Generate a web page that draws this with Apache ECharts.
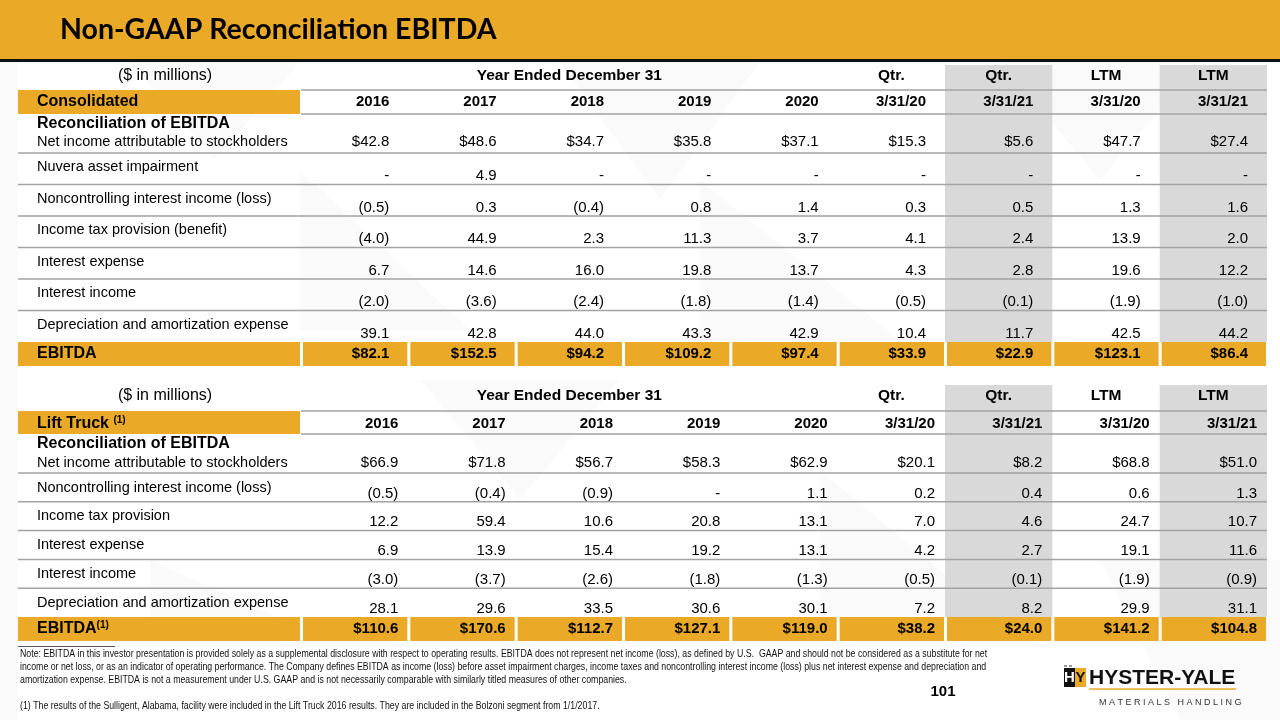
<!DOCTYPE html>
<html><head><meta charset="utf-8">
<script src="https://cdn.jsdelivr.net/npm/echarts@6/dist/echarts.min.js"></script>
<style>html,body{margin:0;padding:0;background:#fff}#c{width:1280px;height:720px}</style>
</head><body><div id="c"></div>
<script>
// ---------------- DATA ----------------
const periodGroups = ['Year Ended December 31', 'Qtr.', 'Qtr.', 'LTM', 'LTM'];
const periodGroupSpans = [5, 1, 1, 1, 1];
const periods = ['2016', '2017', '2018', '2019', '2020', '3/31/20', '3/31/21', '3/31/20', '3/31/21'];
const unitsLabel = '($ in millions)';
const reconTitle = 'Reconciliation of EBITDA';

const consTitle = 'Consolidated';
const consTotalLabel = 'EBITDA';
const consRowLabels = [
  'Net income attributable to stockholders',
  'Nuvera asset impairment',
  'Noncontrolling interest income (loss)',
  'Income tax provision (benefit)',
  'Interest expense',
  'Interest income',
  'Depreciation and amortization expense'
];
const consNetIncome        = [42.8, 48.6, 34.7, 35.8, 37.1, 15.3, 5.6, 47.7, 27.4];
const consNuvera           = [null, 4.9, null, null, null, null, null, null, null];
const consNoncontrolling   = [-0.5, 0.3, -0.4, 0.8, 1.4, 0.3, 0.5, 1.3, 1.6];
const consIncomeTax        = [-4.0, 44.9, 2.3, 11.3, 3.7, 4.1, 2.4, 13.9, 2.0];
const consInterestExpense  = [6.7, 14.6, 16.0, 19.8, 13.7, 4.3, 2.8, 19.6, 12.2];
const consInterestIncome   = [-2.0, -3.6, -2.4, -1.8, -1.4, -0.5, -0.1, -1.9, -1.0];
const consDepreciation     = [39.1, 42.8, 44.0, 43.3, 42.9, 10.4, 11.7, 42.5, 44.2];
const consEbitda           = [82.1, 152.5, 94.2, 109.2, 97.4, 33.9, 22.9, 123.1, 86.4];

const ltTitle = 'Lift Truck ';
const ltTitleSup = '(1)';
const ltTotalLabel = 'EBITDA';
const ltTotalSup = '(1)';
const ltRowLabels = [
  'Net income attributable to stockholders',
  'Noncontrolling interest income (loss)',
  'Income tax provision',
  'Interest expense',
  'Interest income',
  'Depreciation and amortization expense'
];
const ltNetIncome        = [66.9, 71.8, 56.7, 58.3, 62.9, 20.1, 8.2, 68.8, 51.0];
const ltNoncontrolling   = [-0.5, -0.4, -0.9, null, 1.1, 0.2, 0.4, 0.6, 1.3];
const ltIncomeTax        = [12.2, 59.4, 10.6, 20.8, 13.1, 7.0, 4.6, 24.7, 10.7];
const ltInterestExpense  = [6.9, 13.9, 15.4, 19.2, 13.1, 4.2, 2.7, 19.1, 11.6];
const ltInterestIncome   = [-3.0, -3.7, -2.6, -1.8, -1.3, -0.5, -0.1, -1.9, -0.9];
const ltDepreciation     = [28.1, 29.6, 33.5, 30.6, 30.1, 7.2, 8.2, 29.9, 31.1];
const ltEbitda           = [110.6, 170.6, 112.7, 127.1, 119.0, 38.2, 24.0, 141.2, 104.8];

const titleText = 'Non-GAAP Reconciliation EBITDA';
const noteLines = [
  'Note: EBITDA in this investor presentation is provided solely as a supplemental disclosure with respect to operating results. EBITDA does not represent net income (loss), as defined by U.S.  GAAP and should not be considered as a substitute for net',
  'income or net loss, or as an indicator of operating performance. The Company defines EBITDA as income (loss) before asset impairment charges, income taxes and noncontrolling interest income (loss) plus net interest expense and depreciation and',
  'amortization expense. EBITDA is not a measurement under U.S. GAAP and is not necessarily comparable with similarly titled measures of other companies.'
];
const footnoteText = '(1) The results of the Sulligent, Alabama, facility were included in the Lift Truck 2016 results. They are included in the Bolzoni segment from 1/1/2017.';
const pageNumber = '101';
const logoName = 'HYSTER-YALE';
const logoSub = 'M A T E R I A L S   H A N D L I N G';

// ---------------- LAYOUT / STYLE ----------------
const FONT = '"Liberation Sans", Arial, sans-serif';
const GOLD = '#EAAA27', SHADE = '#D9D9D9', LINE = '#A2A2A2';
const SHADED = [6, 8];
const TABLE_LEFT = 18, DATA_LEFT = 301, TABLE_RIGHT = 1267;
const LABEL_UNITS = periods.length * (DATA_LEFT - TABLE_LEFT) / (TABLE_RIGHT - DATA_LEFT);

function fmt(v, dollar) {
  if (v === null) return '-';
  if (v < 0) return '(' + Math.abs(v).toFixed(1) + ')';
  return (dollar ? '$' : '') + v.toFixed(1);
}

const tables = [
  {
    title: consTitle, titleSup: '', totalLabel: consTotalLabel, totalSup: '',
    rowLabels: consRowLabels,
    values: [consNetIncome, consNuvera, consNoncontrolling, consIncomeTax, consInterestExpense, consInterestIncome, consDepreciation],
    total: consEbitda,
    top: 65, rowH: [25, 24, 39, 31.5, 31.5, 31.5, 31.5, 31.5, 31.5, 24], pad: 19,
    off: { h1: 11, h2: 12, recon: 9.5, first: 28, lbl: 14, val: 23 }
  },
  {
    title: ltTitle, titleSup: ltTitleSup, totalLabel: ltTotalLabel, totalSup: ltTotalSup,
    rowLabels: ltRowLabels,
    values: [ltNetIncome, ltNoncontrolling, ltIncomeTax, ltInterestExpense, ltInterestIncome, ltDepreciation],
    total: ltEbitda,
    top: 385, rowH: [26, 23, 39, 28.8, 28.8, 28.8, 28.8, 28.8, 24], pad: 10,
    off: { h1: 11, h2: 13, recon: 9.5, first: 29, lbl: 14.5, val: 20.5 }
  }
];
tables.forEach(t => {
  t.kinds = ['h1', 'h2', 'first'];
  for (let i = 1; i < t.rowLabels.length; i++) t.kinds.push('normal');
  t.kinds.push('total');
  t.cum = [0];
  t.rowH.forEach(h => t.cum.push(t.cum[t.cum.length - 1] + h));
  t.height = t.cum[t.cum.length - 1];
});

function richLabel(main, sup) {
  return {
    text: sup ? '{b|' + main + '}{s|' + sup + '}' : '{b|' + main + '}',
    rich: {
      b: { fontFamily: FONT, fontSize: 16, fontWeight: 'bold', fill: '#000', lineHeight: 18 },
      s: { fontFamily: FONT, fontSize: 10, fontWeight: 'bold', fill: '#000', lineHeight: 11, verticalAlign: 'top' }
    }
  };
}

function makeRender(t) {
  return function (params, api) {
    const r = params.dataIndex;
    const kind = t.kinds[r];
    const yT = api.coord([0, t.cum[r]])[1];
    const yB = api.coord([0, t.cum[r + 1]])[1];
    const X = i => api.coord([i, 0])[0];
    const xL = X(-LABEL_UNITS);
    const ch = [];
    const txt = (s, x, y, o) => ch.push({
      type: 'text', x: x, y: y, z2: 30,
      style: Object.assign({ text: s, fill: '#000', fontFamily: FONT, fontSize: 15, fontWeight: 'normal', align: 'right', verticalAlign: 'middle' }, o || {})
    });
    const rect = (x, y, w, h, fill, z2) => ch.push({ type: 'rect', z2: z2 || 0, shape: { x: x, y: y, width: w, height: h }, style: { fill: fill } });
    const hline = (x1, x2, y) => ch.push({ type: 'line', z2: 20, shape: { x1: x1, y1: y, x2: x2, y2: y }, style: { stroke: LINE, lineWidth: 1.5 } });
    const n = periods.length;

    if (kind !== 'total') SHADED.forEach(c => rect(X(c), yT, X(c + 1) - X(c), yB - yT, SHADE, 0));

    if (kind === 'h1') {
      txt(unitsLabel, xL + 147, yT + t.off.h1, { align: 'center', fontSize: 16 });
      let c = 0;
      periodGroups.forEach((g, i) => {
        const s = periodGroupSpans[i];
        txt(g, (X(c) + X(c + s)) / 2, yT + t.off.h1, { align: 'center', fontWeight: 'bold', fontSize: 15.5 });
        c += s;
      });
    } else if (kind === 'h2') {
      hline(X(0), X(n), yT);
      rect(xL, yT, X(0) - 1 - xL, yB - yT, GOLD, 5);
      txt(null, xL + 19, yT + t.off.h2, Object.assign({ align: 'left' }, richLabel(t.title, t.titleSup)));
      periods.forEach((p, c) => txt(p, X(c + 1) - t.pad, yT + t.off.h2, { fontWeight: 'bold' }));
    } else if (kind === 'first') {
      hline(X(0), X(n), yT);
      txt(reconTitle, xL + 19, yT + t.off.recon, { align: 'left', fontWeight: 'bold', fontSize: 16 });
      txt(t.rowLabels[0], xL + 19, yT + t.off.first, { align: 'left', fontSize: 14.5 });
      t.values[0].forEach((v, c) => txt(fmt(v, true), X(c + 1) - t.pad, yT + t.off.first));
    } else if (kind === 'normal') {
      const i = r - 2;
      hline(xL, X(n), yT);
      txt(t.rowLabels[i], xL + 19, yT + t.off.lbl, { align: 'left', fontSize: 14.5 });
      t.values[i].forEach((v, c) => txt(fmt(v, false), X(c + 1) - t.pad, yT + t.off.val));
    } else {
      rect(xL, yT, X(0) - 1 - xL, yB - yT, GOLD, 5);
      for (let c = 0; c < n; c++) rect(X(c) + 2, yT, X(c + 1) - X(c) - 3, yB - yT, GOLD, 5);
      const ym = (yT + yB) / 2;
      txt(null, xL + 19, ym, Object.assign({ align: 'left' }, richLabel(t.totalLabel, t.totalSup)));
      t.total.forEach((v, c) => txt(fmt(v, true), X(c + 1) - t.pad, ym, { fontWeight: 'bold' }));
    }
    return { type: 'group', children: ch };
  };
}

const grids = [], xAxes = [], yAxes = [], series = [];
tables.forEach((t, k) => {
  grids.push({ left: TABLE_LEFT, right: 1280 - TABLE_RIGHT, top: t.top, height: t.height, containLabel: false });
  xAxes.push({ gridIndex: k, type: 'value', min: -LABEL_UNITS, max: periods.length, show: false });
  yAxes.push({ gridIndex: k, type: 'value', min: 0, max: t.height, inverse: true, show: false });
  series.push({
    type: 'custom', xAxisIndex: k, yAxisIndex: k, silent: true, clip: false, animation: false,
    renderItem: makeRender(t),
    data: t.kinds.map((_, i) => [0, t.cum[i]])
  });
});

// background facets (decorative)
const facets = [
  [[0, 62], [18, 62], [18, 720], [0, 720]],
  [[130, 62], [300, 62], [215, 160]],
  [[560, 62], [760, 62], [660, 200]],
  [[300, 170], [470, 330], [300, 330]],
  [[700, 180], [900, 340], [700, 340]],
  [[1000, 62], [1200, 62], [1100, 180]],
  [[420, 380], [620, 380], [520, 500]],
  [[820, 470], [1000, 620], [820, 620]],
  [[1100, 560], [1280, 560], [1280, 720], [1180, 720]],
  [[150, 560], [330, 640], [150, 640]]
].map(p => ({ type: 'polygon', z: -10, silent: true, shape: { points: p }, style: { fill: 'rgba(0,0,0,0.018)' } }));

const NOTE_FONT = '11.5px "Liberation Sans", Arial, sans-serif';
const graphics = facets.concat([
  { type: 'rect', z: 50, shape: { x: 0, y: 0, width: 1280, height: 59 }, style: { fill: GOLD } },
  { type: 'rect', z: 50, shape: { x: 0, y: 59, width: 1280, height: 3 }, style: { fill: '#111' } },
  { type: 'text', z: 51, x: 60, y: 29.5, style: { text: titleText, fill: '#000', font: 'bold 28.5px Lato, "Open Sans", sans-serif', verticalAlign: 'middle' } },
  { type: 'line', z: 50, shape: { x1: 18, y1: 646.5, x2: 115, y2: 646.5 }, style: { stroke: '#555', lineWidth: 1 } },
  { type: 'text', z: 51, x: 20, y: 654, scaleX: 0.763, style: { text: noteLines[0], fill: '#111', font: NOTE_FONT, verticalAlign: 'middle' } },
  { type: 'text', z: 51, x: 20, y: 667, scaleX: 0.763, style: { text: noteLines[1], fill: '#111', font: NOTE_FONT, verticalAlign: 'middle' } },
  { type: 'text', z: 51, x: 20, y: 680, scaleX: 0.763, style: { text: noteLines[2], fill: '#111', font: NOTE_FONT, verticalAlign: 'middle' } },
  { type: 'text', z: 51, x: 20, y: 706, scaleX: 0.763, style: { text: footnoteText, fill: '#111', font: NOTE_FONT, verticalAlign: 'middle' } },
  { type: 'text', z: 51, x: 943, y: 692, style: { text: pageNumber, fill: '#000', font: 'bold 15px "Liberation Sans", Arial, sans-serif', align: 'center', verticalAlign: 'middle' } },
  // logo
  { type: 'rect', z: 51, shape: { x: 1064, y: 668, width: 11, height: 19 }, style: { fill: '#111' } },
  { type: 'rect', z: 51, shape: { x: 1075, y: 668, width: 11, height: 19 }, style: { fill: GOLD } },
  { type: 'rect', z: 51, shape: { x: 1064, y: 665, width: 3, height: 2 }, style: { fill: '#999' } },
  { type: 'rect', z: 51, shape: { x: 1069, y: 665, width: 3, height: 2 }, style: { fill: '#999' } },
  { type: 'text', z: 52, x: 1069.5, y: 678, style: { text: 'H', fill: '#fff', font: 'bold 15px "Liberation Sans", Arial', align: 'center', verticalAlign: 'middle' } },
  { type: 'text', z: 52, x: 1080.5, y: 678, style: { text: 'Y', fill: '#111', font: 'bold 15px "Liberation Sans", Arial', align: 'center', verticalAlign: 'middle' } },
  { type: 'text', z: 51, x: 1089, y: 678.5, style: { text: logoName, fill: '#111', font: 'bold 21px "Liberation Sans", Arial', verticalAlign: 'middle' } },
  { type: 'line', z: 51, shape: { x1: 1089, y1: 689, x2: 1236, y2: 689 }, style: { stroke: GOLD, lineWidth: 1.5 } },
  { type: 'text', z: 51, x: 1099, y: 703, style: { text: logoSub, fill: '#333', font: '9px "Liberation Sans", Arial', verticalAlign: 'middle' } }
]);

const chart = echarts.init(document.getElementById('c'), null, { renderer: 'canvas' });
chart.setOption({
  backgroundColor: '#ffffff',
  animation: false,
  grid: grids,
  xAxis: xAxes,
  yAxis: yAxes,
  series: series,
  graphic: { elements: graphics }
});
</script>
</body></html>
